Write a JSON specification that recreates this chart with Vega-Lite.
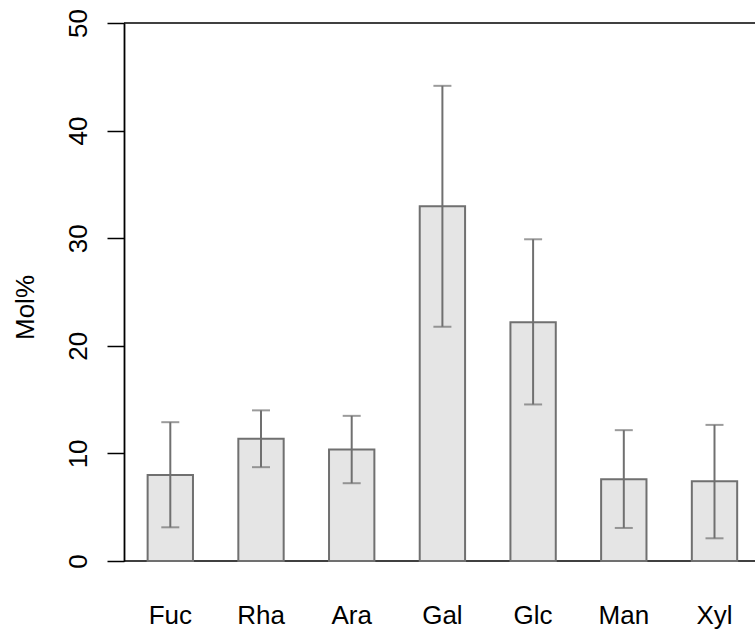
{
  "$schema": "https://vega.github.io/schema/vega-lite/v6.json",
  "width": 631,
  "height": 538,
  "autosize": {"type": "none"},
  "padding": {"left": 124, "top": 23, "right": 0, "bottom": 69},
  "background": "white",
  "config": {"view": {"stroke": null}, "font": "Liberation Sans"},
  "datasets": {
    "sugars": [
      {"sugar": "Fuc", "mean": 8.0, "low": 3.13, "high": 12.9},
      {"sugar": "Rha", "mean": 11.35, "low": 8.72, "high": 14.0},
      {"sugar": "Ara", "mean": 10.36, "low": 7.23, "high": 13.49},
      {"sugar": "Gal", "mean": 32.97, "low": 21.77, "high": 44.16},
      {"sugar": "Glc", "mean": 22.2, "low": 14.55, "high": 29.9},
      {"sugar": "Man", "mean": 7.6, "low": 3.07, "high": 12.16},
      {"sugar": "Xyl", "mean": 7.41, "low": 2.11, "high": 12.65}
    ],
    "lines": [{"y": 0}, {"y": 50}]
  },
  "layer": [
    {
      "data": {"name": "lines"},
      "mark": {"type": "rule", "color": "black", "strokeWidth": 1.6},
      "encoding": {
        "y": {"field": "y", "type": "quantitative", "scale": {"domain": [0, 50], "nice": false}}
      }
    },
    {
      "data": {"name": "sugars"},
      "mark": {"type": "bar", "fill": "#e5e5e5", "stroke": "#707070", "strokeWidth": 2},
      "encoding": {
        "x": {
          "field": "sugar", "type": "nominal", "sort": null,
          "scale": {"paddingInner": 0.5, "paddingOuter": 0.2285, "align": 0.57},
          "axis": {
            "title": null, "ticks": false, "tickSize": 0, "domain": false, "labelAngle": 0,
            "labelFontSize": 26, "labelColor": "black", "labelBaseline": "alphabetic",
            "labelPadding": 62
          }
        },
        "y": {
          "field": "mean", "type": "quantitative",
          "scale": {"domain": [0, 50], "nice": false},
          "axis": {
            "title": "Mol%", "values": [0, 10, 20, 30, 40, 50], "grid": false,
            "tickSize": 17, "tickColor": "black", "tickWidth": 1.5,
            "domainColor": "black", "domainWidth": 1.8,
            "labelAngle": -90, "labelAlign": "center", "labelBaseline": "alphabetic",
            "labelPadding": 21, "labelFontSize": 26, "labelColor": "black",
            "titleFontSize": 26, "titleFontWeight": "normal", "titleColor": "black",
            "titleAngle": -90, "titleAlign": "center", "titleBaseline": "alphabetic",
            "titleX": -91, "titleY": 284
          }
        }
      }
    },
    {
      "data": {"name": "sugars"},
      "mark": {"type": "rule", "color": "#707070", "strokeWidth": 2},
      "encoding": {
        "x": {"field": "sugar", "type": "nominal", "sort": null},
        "y": {"field": "low", "type": "quantitative"},
        "y2": {"field": "high"}
      }
    },
    {
      "data": {"name": "sugars"},
      "mark": {"type": "tick", "color": "#707070", "size": 18, "thickness": 2},
      "encoding": {
        "x": {"field": "sugar", "type": "nominal", "sort": null},
        "y": {"field": "low", "type": "quantitative"}
      }
    },
    {
      "data": {"name": "sugars"},
      "mark": {"type": "tick", "color": "#707070", "size": 18, "thickness": 2},
      "encoding": {
        "x": {"field": "sugar", "type": "nominal", "sort": null},
        "y": {"field": "high", "type": "quantitative"}
      }
    }
  ]
}
